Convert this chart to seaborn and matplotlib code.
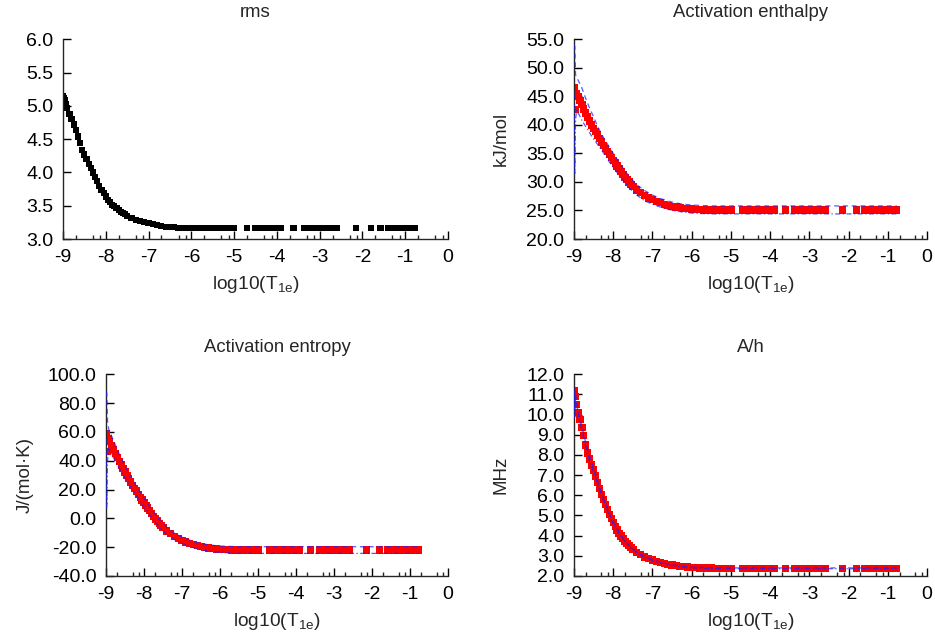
import matplotlib
matplotlib.use('Agg')
import matplotlib.pyplot as plt
import seaborn as sns
from matplotlib.ticker import FixedLocator, FormatStrFormatter

# log10(T1e) scan: dense part first, then the scattered points further out
log_t1e = [-9.00, -8.98, -8.96, -8.93, -8.90,
           -8.85, -8.80, -8.75, -8.70, -8.65, -8.60, -8.55, -8.50, -8.45, -8.40,
           -8.35, -8.30, -8.25, -8.20, -8.15, -8.10, -8.05, -8.00, -7.95, -7.90,
           -7.85, -7.80, -7.75, -7.70, -7.65, -7.60, -7.55, -7.50,
           -7.40, -7.30, -7.20, -7.10, -7.00, -6.90, -6.80, -6.70, -6.60, -6.50,
           -6.40, -6.30, -6.20, -6.10, -6.00, -5.90, -5.80, -5.70, -5.60, -5.50,
           -5.40, -5.30, -5.20, -5.10, -5.00,
           -4.70, -4.52, -4.36, -4.26, -4.16, -4.06, -3.96, -3.90, -3.61, -3.37,
           -3.23, -3.12, -3.02, -2.92, -2.82, -2.72, -2.62, -2.59, -2.15, -1.80,
           -1.58, -1.39, -1.24, -1.14, -1.04, -0.94, -0.84, -0.77]

rms = [5.15, 5.11, 5.08, 5.02, 4.97,
       4.88, 4.80, 4.72, 4.64, 4.54, 4.44, 4.34, 4.27, 4.20, 4.13,
       4.07, 4.00, 3.93, 3.87, 3.80, 3.74, 3.69, 3.64, 3.59, 3.55,
       3.51, 3.49, 3.46, 3.44, 3.41, 3.39, 3.37, 3.35,
       3.32, 3.29, 3.27, 3.25, 3.235, 3.22, 3.21, 3.195, 3.185, 3.18,
       3.175, 3.17, 3.17, 3.165, 3.165, 3.165, 3.165, 3.165, 3.165, 3.165,
       3.165, 3.165, 3.165, 3.165, 3.165,
       3.165, 3.165, 3.165, 3.165, 3.165, 3.165, 3.165, 3.165, 3.165, 3.165,
       3.165, 3.165, 3.165, 3.165, 3.165, 3.165, 3.165, 3.165, 3.165, 3.165,
       3.165, 3.165, 3.165, 3.165, 3.165, 3.165, 3.165, 3.165]

enthalpy = [46.5, 46.2, 42.7, 45.5, 45.0,
            44.3, 43.6, 42.8, 42.1, 41.4, 40.7, 40.0, 39.4, 38.8, 38.2,
            37.6, 37.0, 36.4, 35.9, 35.3, 34.8, 34.3, 33.8, 33.3, 32.8,
            32.3, 31.8, 31.3, 30.8, 30.4, 30.0, 29.6, 29.2,
            28.6, 28.1, 27.6, 27.2, 26.9, 26.6, 26.35, 26.1, 25.9, 25.75,
            25.6, 25.5, 25.4, 25.3, 25.25, 25.2, 25.15, 25.1, 25.1, 25.1,
            25.1, 25.1, 25.1, 25.1, 25.1,
            25.1, 25.1, 25.1, 25.1, 25.1, 25.1, 25.1, 25.1, 25.1, 25.1,
            25.1, 25.1, 25.1, 25.1, 25.1, 25.1, 25.1, 25.1, 25.1, 25.1,
            25.1, 25.1, 25.1, 25.1, 25.1, 25.1, 25.1, 25.1]

entropy = [59.0, 57.9, 46.5, 55.2, 53.3,
           50.7, 48.0, 45.0, 42.3, 39.7, 37.1, 34.4, 32.1, 29.9, 27.6,
           25.3, 23.0, 20.8, 18.9, 16.6, 14.7, 12.8, 10.9, 9.0, 7.1,
           5.3, 3.4, 1.5, -0.4, -1.9, -3.4, -4.9, -6.5,
           -8.7, -10.6, -12.5, -14.0, -15.2, -16.3, -17.3, -18.2, -19.0, -19.5,
           -20.1, -20.5, -20.9, -21.2, -21.4, -21.6, -21.8, -22.0, -22.0, -22.0,
           -22.0, -22.0, -22.0, -22.0, -22.0,
           -22.0, -22.0, -22.0, -22.0, -22.0, -22.0, -22.0, -22.0, -22.0, -22.0,
           -22.0, -22.0, -22.0, -22.0, -22.0, -22.0, -22.0, -22.0, -22.0, -22.0,
           -22.0, -22.0, -22.0, -22.0, -22.0, -22.0, -22.0, -22.0]

a_over_h = [11.2, 10.1, 10.9, 10.5, 10.1,
            9.75, 9.35, 8.95, 8.5, 8.1, 7.8, 7.5, 7.25, 6.95, 6.65,
            6.35, 6.05, 5.8, 5.55, 5.3, 5.05, 4.85, 4.65, 4.45, 4.28,
            4.12, 3.98, 3.85, 3.72, 3.61, 3.5, 3.41, 3.32,
            3.17, 3.05, 2.95, 2.86, 2.79, 2.72, 2.67, 2.62, 2.58, 2.54,
            2.51, 2.48, 2.46, 2.44, 2.42, 2.41, 2.40, 2.40, 2.39, 2.39,
            2.38, 2.38, 2.38, 2.38, 2.38,
            2.38, 2.38, 2.38, 2.38, 2.38, 2.38, 2.38, 2.38, 2.38, 2.38,
            2.38, 2.38, 2.38, 2.38, 2.38, 2.38, 2.38, 2.38, 2.38, 2.38,
            2.38, 2.38, 2.38, 2.38, 2.38, 2.38, 2.38, 2.38]

# confidence limits (blue dashed upper / dash-dotted lower)
band_x = [-9.00, -8.98, -8.96, -8.93, -8.90, -8.80, -8.70, -8.60, -8.50, -8.40,
          -8.30, -8.20, -8.10, -8.00, -7.80, -7.60, -7.40, -7.20, -7.00, -6.80,
          -6.60, -6.40, -6.20, -6.00, -5.50, -5.00, -4.00, -3.00, -2.00, -0.77]

enthalpy_hi = [54.0, 53.8, 48.8, 48.3, 47.9, 46.5, 44.6, 42.9, 41.4, 39.8,
               38.4, 37.2, 36.1, 35.0, 32.9, 31.0, 29.5, 28.5, 27.7, 27.1,
               26.65, 26.3, 26.1, 25.95, 25.8, 25.8, 25.8, 25.8, 25.8, 25.8]
enthalpy_lo = [45.5, 31.5, 41.0, 42.6, 42.2, 40.8, 39.7, 38.6, 37.5, 36.6,
               35.6, 34.6, 33.5, 32.6, 30.7, 29.0, 27.7, 26.7, 26.1, 25.6,
               25.2, 24.9, 24.7, 24.55, 24.4, 24.4, 24.4, 24.4, 24.4, 24.4]

entropy_hi = [88, 87, 68, 62, 60, 54, 47.5, 41.8, 36.3, 31.4,
              26.6, 22.3, 17.9, 13.9, 6.2, -0.8, -6.3, -10.3, -13.0, -15.1,
              -16.8, -17.9, -18.7, -19.2, -19.7, -19.7, -19.7, -19.7, -19.7, -19.7]
entropy_lo = [55, 8, 40, 48.5, 47, 42, 37.1, 32.4, 27.9, 23.8,
              19.4, 15.5, 11.5, 7.9, 0.6, -6.0, -11.1, -14.7, -17.4, -19.5,
              -21.2, -22.3, -23.1, -23.6, -24.3, -24.3, -24.3, -24.3, -24.3, -24.3]

a_over_h_hi = [11.3, 10.3, 11.0, 10.6, 10.2, 9.45, 8.6, 7.9, 7.33, 6.72,
               6.11, 5.6, 5.1, 4.69, 4.01, 3.53, 3.19, 2.97, 2.81, 2.69,
               2.6, 2.53, 2.48, 2.44, 2.41, 2.40, 2.40, 2.40, 2.40, 2.40]
a_over_h_lo = [11.1, 9.9, 10.8, 10.4, 10.0, 9.25, 8.4, 7.7, 7.17, 6.58,
               5.99, 5.5, 5.0, 4.61, 3.95, 3.47, 3.15, 2.93, 2.77, 2.65,
               2.56, 2.49, 2.44, 2.40, 2.37, 2.36, 2.36, 2.36, 2.36, 2.36]

x_ticks = [-9, -8, -7, -6, -5, -4, -3, -2, -1, 0]

sns.set_style('ticks')
plt.rcParams['font.family'] = ['Liberation Sans', 'DejaVu Sans']
plt.rcParams['mathtext.default'] = 'regular'
plt.rcParams['font.size'] = 13.5
plt.rcParams['axes.linewidth'] = 1.0

fig = plt.figure(figsize=(9.35, 6.38), dpi=100)
W, H = 935.0, 638.0


def panel(rect, y, ylim, yticks, title, ylabel=None, color='red', size=28,
          hi=None, lo=None, labelpad=10):
    left, top, right, bottom = rect
    ax = fig.add_axes([left / W, 1 - bottom / H, (right - left) / W, (bottom - top) / H])
    sns.scatterplot(x=log_t1e, y=y, ax=ax, marker='s', s=size, color=color,
                    linewidth=0, edgecolor='none', zorder=2)
    if hi is not None:
        sns.lineplot(x=band_x, y=hi, ax=ax, color='#2020ff', lw=0.9, alpha=0.75,
                     linestyle=(0, (4, 3)), estimator=None, zorder=3)
        sns.lineplot(x=band_x, y=lo, ax=ax, color='#2020ff', lw=0.9, alpha=0.75,
                     linestyle=(0, (4, 2, 1, 2)), estimator=None, zorder=3)
    ax.set_xlim(-9, 0)
    ax.set_ylim(*ylim)
    ax.set_xticks(x_ticks)
    ax.set_xticklabels([str(t) for t in x_ticks])
    minor = [t + f for t in x_ticks[:-1] for f in (0.30, 0.70, 0.875)]
    ax.xaxis.set_minor_locator(FixedLocator(minor))
    ax.set_yticks(yticks)
    ax.yaxis.set_major_formatter(FormatStrFormatter('%.1f'))
    ax.tick_params(which='major', direction='in', length=6, width=1, pad=7,
                   labelsize=14, colors='black')
    ax.tick_params(axis='x', which='minor', direction='in', length=3, width=1)
    sns.despine(ax=ax)
    ax.set_title(title, fontsize=13.3, pad=16)
    ax.set_xlabel('log10(T$_{1e}$)', fontsize=13.8, labelpad=6)
    if ylabel:
        ax.set_ylabel(ylabel, fontsize=13.5, labelpad=labelpad)
    else:
        ax.set_ylabel('')
    return ax


panel((63, 39.3, 448, 239), rms, (3.0, 6.0), [3.0, 3.5, 4.0, 4.5, 5.0, 5.5, 6.0],
      'rms', color='black', size=20)
panel((574, 39.3, 927, 239), enthalpy, (20, 55), [20, 25, 30, 35, 40, 45, 50, 55],
      'Activation enthalpy', 'kJ/mol', hi=enthalpy_hi, lo=enthalpy_lo, labelpad=12)
panel((106, 374.3, 448, 576), entropy, (-40, 100), [-40, -20, 0, 20, 40, 60, 80, 100],
      'Activation entropy', 'J/(mol·K)', hi=entropy_hi, lo=entropy_lo, labelpad=10)
panel((574, 374.3, 927, 576), a_over_h, (2, 12), list(range(2, 13)),
      'A/h', 'MHz', hi=a_over_h_hi, lo=a_over_h_lo, labelpad=12)

fig.savefig('out.png', dpi=100)
